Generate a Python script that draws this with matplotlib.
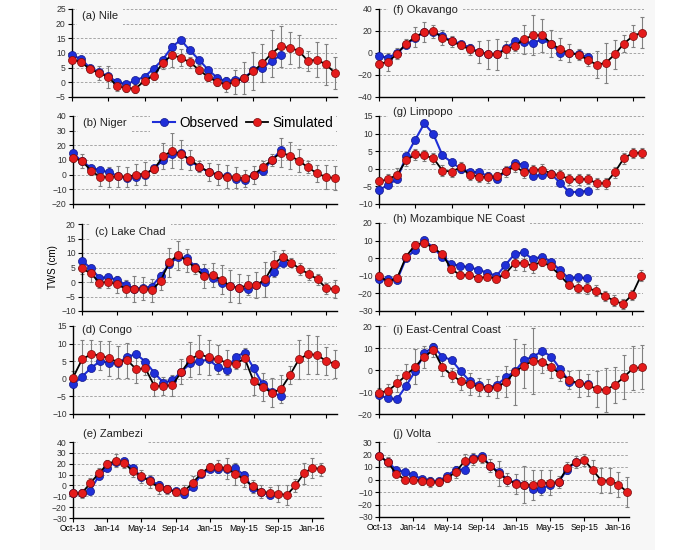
import matplotlib
matplotlib.use("Agg")
import numpy as np
import matplotlib.pyplot as plt
from matplotlib.patches import Rectangle

plt.rcParams.update({
    "font.family": ["Liberation Sans", "DejaVu Sans"],
    "font.size": 7,
})

TICK_LABELS = ["Oct-13", "Jan-14", "May-14", "Sep-14", "Jan-15",
               "May-15", "Sep-15", "Jan-16"]

# observed (24 months), simulated (30 months), simulated error half-width
NILE_OBS = [9.2, 8.0, 4.8, 3.5, 2.0, 0.1, -0.7, 0.7, 1.9, 4.7, 7.7, 12.0,
            14.5, 10.9, 7.7, 4.3, 1.6, 0.3, 0.9, 1.6, 4.1, 5.0, 7.2, 9.2]
NILE_SIM = [7.7, 6.9, 4.4, 3.2, 1.8, -1.4, -1.9, -2.2, 0.6, 2.2, 6.6, 9.3,
            8.4, 6.8, 4.3, 1.8, 0.2, -0.8, 0.1, 1.5, 3.8, 6.5, 9.8, 12.3,
            11.7, 10.8, 7.3, 7.7, 6.1, 3.2]
NILE_ERR = [1.0, 1.5, 1.0, 2.5, 3.7, 1.5, 1.5, 1.5, 1.5, 1.5, 2.0, 4.0,
            3.0, 2.0, 1.5, 1.5, 1.5, 2.5, 4.0, 5.5, 6.5, 6.5, 8.0, 7.0,
            5.5, 5.5, 3.5, 6.0, 7.0, 5.5]

NIGER_OBS = [14.5, 9.0, 4.8, 3.0, 1.6, -1.0, -2.5, -1.6, 0.0, 4.8, 9.8, 13.9,
             14.5, 9.3, 5.0, 2.0, 0.0, -1.0, -3.0, -3.6, 0.0, 2.5, 10.0, 16.6]
NIGER_SIM = [11.6, 9.3, 2.7, -1.6, -1.6, -1.1, -1.6, 0.0, 0.7, 3.9, 12.7, 16.4,
             13.9, 10.0, 5.5, 2.0, 0.0, -1.4, -1.8, -2.5, -0.2, 5.0, 10.0, 15.0,
             13.0, 9.5, 5.0, 0.9, -1.6, -2.3]
NIGER_ERR = [3, 5, 3, 6, 7, 7, 7, 7, 8, 3, 9, 12,
             10, 7, 4, 6, 7, 8, 7, 6, 6, 4, 4, 10,
             9, 8, 4, 6, 8, 8]

CHAD_OBS = [7.4, 4.7, 1.5, 1.6, 0.8, -1.0, -2.4, -2.0, -1.6, 2.1, 6.1, 8.7,
            8.2, 5.3, 3.6, 1.3, -0.2, -1.4, -2.0, -2.4, -1.0, 0.1, 3.6, 6.7]
CHAD_SIM = [4.7, 3.0, -0.2, 0.0, -0.8, -2.3, -2.4, -2.3, -2.8, 0.3, 6.8, 9.3,
            7.4, 4.7, 2.1, 2.4, 0.7, -1.4, -2.2, -1.0, -1.0, 0.9, 6.2, 8.7,
            6.7, 4.4, 2.8, 0.9, -2.2, -2.4]
CHAD_ERR = [2, 3, 2, 2, 3, 3, 4.5, 4, 4, 3, 5, 5,
            4, 2, 4, 4, 5, 5.5, 5, 3.5, 4.5, 6, 4.5, 2.5,
            1.5, 2, 2, 2, 2, 3]

CONGO_OBS = [-1.6, 0.6, 3.1, 5.0, 4.6, 4.4, 6.3, 7.0, 4.9, 1.7, -1.1, -0.4,
             2.0, 4.4, 5.0, 5.5, 3.4, 2.5, 6.3, 7.4, 3.0, -1.6, -3.7, -5.0]
CONGO_SIM = [0.3, 5.5, 7.0, 6.6, 5.8, 4.7, 5.3, 2.7, 3.0, -2.0, -2.1, -1.8,
             2.0, 5.5, 7.0, 6.1, 5.5, 4.6, 4.2, 5.8, -0.7, -2.4, -3.9, -3.0,
             1.0, 5.5, 7.0, 6.8, 5.1, 4.2]
CONGO_ERR = [2, 5.5, 4, 4, 5, 4.5, 5, 4, 2, 3, 2.5, 3,
             3.5, 5, 5.5, 5, 4, 3.5, 1.5, 3, 4, 4, 4, 4,
             2.5, 5.5, 5.5, 5.5, 4, 4]

ZAMBEZI_OBS = [-7.4, -7.0, -4.9, 8.6, 16.3, 22.0, 22.8, 15.7, 8.0, 4.9, 0.3, -3.0,
               -5.5, -8.0, -1.2, 10.2, 14.8, 14.8, 15.0, 15.7, 9.5, -2.8, -6.0, -8.9]
ZAMBEZI_SIM = [-7.4, -7.4, 1.8, 11.0, 19.4, 22.8, 20.3, 13.2, 8.6, 3.7, -1.8, -3.7,
               -5.8, -5.5, 2.5, 11.0, 17.2, 17.2, 15.7, 10.5, 5.5, -0.6, -5.8, -6.8,
               -7.5, -8.9, 0.0, 11.0, 16.3, 15.1]
ZAMBEZI_ERR = [3, 4, 5, 5, 4, 6, 4, 5, 6, 6, 6, 4,
               3, 6, 6, 3, 3, 6, 10, 10, 7, 6, 6, 5,
               8, 9, 6, 10, 9, 6]

OKAVANGO_OBS = [-2.7, -4.3, 0.0, 7.6, 14.0, 19.0, 19.0, 15.2, 11.0, 8.5, 4.9, 1.0,
                -1.0, -1.0, 4.6, 10.6, 10.0, 9.1, 12.5, 8.0, 0.3, 0.0, -1.0, -3.6]
OKAVANGO_SIM = [-9.7, -8.2, -0.6, 8.5, 14.6, 19.1, 19.8, 14.0, 10.6, 7.0, 3.3, 0.9,
                -1.2, -1.2, 3.3, 6.4, 12.5, 16.1, 16.1, 8.5, 3.3, 0.0, -1.5, -6.1,
                -10.6, -9.1, -1.2, 8.5, 15.5, 18.5]
OKAVANGO_ERR = [3, 8, 5, 4, 9, 9, 6, 7, 5, 3, 5, 10,
                13, 14, 8, 5, 13, 18, 15, 12, 10, 8, 5, 6,
                12, 18, 13, 8, 10, 14]

LIMPOPO_OBS = [-6.0, -4.6, -2.9, 3.6, 8.3, 12.9, 9.8, 3.8, 1.9, 0.0, -0.8, -1.0,
               -2.0, -3.0, -0.5, 1.7, 1.1, -2.1, -1.7, -1.5, -4.1, -6.7, -6.5, -6.3]
LIMPOPO_SIM = [-3.6, -3.0, -1.7, 2.4, 4.1, 3.8, 3.0, -0.5, -0.8, 0.4, -1.7, -2.2,
               -2.4, -2.1, -0.7, 0.7, -1.0, -0.3, -0.2, -1.4, -1.9, -3.0, -3.0, -2.9,
               -4.1, -4.1, -1.0, 3.0, 4.5, 4.5]
LIMPOPO_ERR = [1.2, 1.5, 1.8, 1.5, 1.5, 1.5, 1.5, 1.5, 1.5, 1.5, 1.5, 1.5,
               1.5, 1.2, 1.5, 1.5, 1.5, 1.5, 1.5, 1.2, 1.5, 1.5, 1.5, 1.5,
               1.5, 1.5, 1.5, 1.5, 1.5, 1.5]

MOZ_OBS = [-12.0, -12.0, -12.3, 0.0, 4.7, 10.4, 6.0, 0.6, -3.2, -4.4, -5.1, -6.6,
           -8.2, -10.1, -3.8, 2.3, 3.4, -0.6, 0.9, -1.9, -6.6, -11.4, -10.8, -11.4]
MOZ_SIM = [-10.1, -13.3, -11.4, 0.9, 7.6, 8.9, 5.7, 2.5, -6.3, -9.5, -9.5, -11.4,
           -10.4, -11.8, -8.9, -2.8, -2.5, -4.4, -1.9, -4.7, -9.5, -15.2, -16.7, -17.1,
           -18.4, -21.4, -24.1, -26.0, -20.9, -9.9]
MOZ_ERR = [2, 2.5, 2, 2, 2, 2.5, 2, 1.5, 2, 2, 2, 2,
           2, 2, 2, 4, 5, 4, 2.5, 2, 2, 2, 3, 3,
           3, 3, 3, 3, 3, 3]

ECC_OBS = [-11.4, -12.9, -13.2, -7.1, -0.5, 7.6, 10.6, 6.1, 4.5, -0.5, -5.0, -7.0,
           -8.0, -6.8, -3.3, -0.5, 4.5, 6.1, 8.6, 6.1, 0.3, -5.3, -6.0, -6.5]
ECC_SIM = [-10.3, -9.5, -6.1, -2.3, 1.5, 6.1, 9.1, 1.2, -2.3, -5.0, -6.5, -7.6,
           -8.0, -7.9, -5.3, -0.8, 2.0, 4.2, 3.8, 1.2, -1.8, -4.5, -6.1, -6.8,
           -8.6, -9.1, -6.8, -3.3, 0.8, 1.2]
ECC_ERR = [2, 3, 4, 5, 8, 5, 3, 4, 3, 4, 5, 4,
           4, 5, 7, 15, 10, 15, 5, 5, 3, 4, 6, 5,
           8, 10, 8, 10, 10, 10]

VOLTA_OBS = [19.2, 13.9, 8.0, 5.9, 3.5, 0.5, -1.0, -1.3, 3.2, 8.0, 8.0, 17.0,
             19.2, 11.0, 6.1, 0.0, -3.0, -4.0, -7.5, -7.2, -4.5, -2.0, 8.0, 14.0]
VOLTA_SIM = [19.2, 13.9, 4.8, 0.0, 0.0, -1.3, -1.9, -2.1, 1.3, 6.1, 14.7, 16.5,
             17.3, 11.2, 4.8, 0.0, -3.2, -4.0, -4.5, -2.7, -2.7, -2.1, 9.3, 14.1,
             15.5, 7.5, -0.8, -0.8, -4.0, -9.9]
VOLTA_ERR = [2, 4, 3, 3, 3, 3, 4, 3, 3, 5, 6, 5,
             4, 5, 10, 5, 8, 15, 12, 10, 10, 5, 5, 5,
             5, 8, 10, 10, 10, 12]

BG = "#f7f7f7"
BLUE = "#1f2fd8"
RED = "#e41b1b"

# (label, obs, sim, err, ymin, ymax, step, [left px, top px, last-point px, bottom px], label x, label y)
PANELS = [
    ("(a) Nile", NILE_OBS, NILE_SIM, NILE_ERR, -5, 25, 5, (72, 9, 335, 97), 82, 16),
    ("(b) Niger", NIGER_OBS, NIGER_SIM, NIGER_ERR, -20, 40, 10, (73, 116, 335, 204), 83, 123),
    ("(c) Lake Chad", CHAD_OBS, CHAD_SIM, CHAD_ERR, -10, 20, 5, (82, 224, 335, 311), 95, 232),
    ("(d) Congo", CONGO_OBS, CONGO_SIM, CONGO_ERR, -10, 15, 5, (73, 326, 335, 414), 82, 330),
    ("(e) Zambezi", ZAMBEZI_OBS, ZAMBEZI_SIM, ZAMBEZI_ERR, -30, 40, 10, (73, 442, 321, 518), 83, 434),
    ("(f) Okavango", OKAVANGO_OBS, OKAVANGO_SIM, OKAVANGO_ERR, -40, 40, 20, (379, 9, 642, 97), 393, 10),
    ("(g) Limpopo", LIMPOPO_OBS, LIMPOPO_SIM, LIMPOPO_ERR, -10, 15, 5, (379, 116, 642, 204), 393, 112),
    ("(h) Mozambique NE Coast", MOZ_OBS, MOZ_SIM, MOZ_ERR, -30, 20, 10, (379, 223, 641, 311), 393, 219),
    ("(i) East-Central Coast", ECC_OBS, ECC_SIM, ECC_ERR, -20, 20, 10, (379, 326, 642, 414), 393, 330),
    ("(j) Volta", VOLTA_OBS, VOLTA_SIM, VOLTA_ERR, -30, 30, 10, (379, 442, 627, 517), 393, 434),
]

W, H = 700, 550

fig = plt.figure(figsize=(7, 5.5), dpi=100)
fig.patch.set_facecolor("white")
fig.patches.append(Rectangle((40 / W, 0), 615 / W, 1, transform=fig.transFigure,
                             facecolor=BG, edgecolor="none", zorder=-10))

for idx, (label, obs, sim, err, ymin, ymax, step, pos, lx, ly) in enumerate(PANELS):
    left, top, last, bottom = pos
    n = len(sim)
    span = (last - left) / (n - 1)
    width = span * (n - 1 + 0.25)
    ax = fig.add_axes([left / W, 1 - bottom / H, width / W, (bottom - top) / H])
    ax.set_facecolor(BG)

    x_sim = np.arange(n)
    x_obs = np.arange(len(obs))

    ax.errorbar(x_sim, sim, yerr=err, fmt="none", ecolor="#808080",
                elinewidth=0.8, capsize=1.6, capthick=0.8, zorder=2, clip_on=False)
    h_obs, = ax.plot(x_obs, obs, color=BLUE, linewidth=1.5, marker="o", markersize=5.8,
                     markerfacecolor=BLUE, markeredgecolor="#10168a", markeredgewidth=0.5,
                     zorder=3, clip_on=False, label="Observed")
    h_sim, = ax.plot(x_sim, sim, color="black", linewidth=1.3, marker="o", markersize=5.8,
                     markerfacecolor=RED, markeredgecolor="#7a0a0a", markeredgewidth=0.5,
                     zorder=4, clip_on=False, label="Simulated")

    ax.set_xlim(0, n - 1 + 0.25)
    ax.set_ylim(ymin, ymax)
    ax.set_yticks(np.arange(ymin, ymax + step / 2, step))
    ax.set_xticks(np.arange(0, n, 4))
    if idx in (4, 9):
        ax.set_xticklabels(TICK_LABELS, fontsize=6.5)
    else:
        ax.set_xticklabels([])

    ax.set_axisbelow(True)
    ax.yaxis.grid(True, color="#9a9a9a", linestyle=(0, (3, 2)), linewidth=0.6)
    ax.spines["top"].set_visible(False)
    ax.spines["right"].set_visible(False)
    ax.spines["left"].set_linewidth(1.0)
    ax.spines["bottom"].set_linewidth(1.0)
    ax.tick_params(direction="out", length=3, width=0.8, labelsize=6.2, pad=1.5, colors="black")
    ax.tick_params(axis="y", labelcolor="#333333")

    ax.text(lx / W, 1 - ly / H, label, transform=fig.transFigure, fontsize=8,
            ha="left", va="center", color="#222222", zorder=1,
            bbox=dict(boxstyle="square,pad=0.45", facecolor=BG, edgecolor="none"))

    if idx == 2:
        ax.set_ylabel("TWS (cm)", fontsize=7, labelpad=2)

    if idx == 1:
        leg = ax.legend(handles=[h_obs, h_sim], loc="center", ncol=2,
                        bbox_to_anchor=(243 / W, 1 - 123 / H), bbox_transform=fig.transFigure,
                        frameon=True, fontsize=9.8, handlelength=1.6, handletextpad=0.3,
                        columnspacing=0.6, borderpad=0.2, fancybox=False)
        leg.get_frame().set_facecolor(BG)
        leg.get_frame().set_edgecolor("none")
        leg.get_frame().set_alpha(1)

fig.savefig("out.png", dpi=100, facecolor=fig.get_facecolor())
